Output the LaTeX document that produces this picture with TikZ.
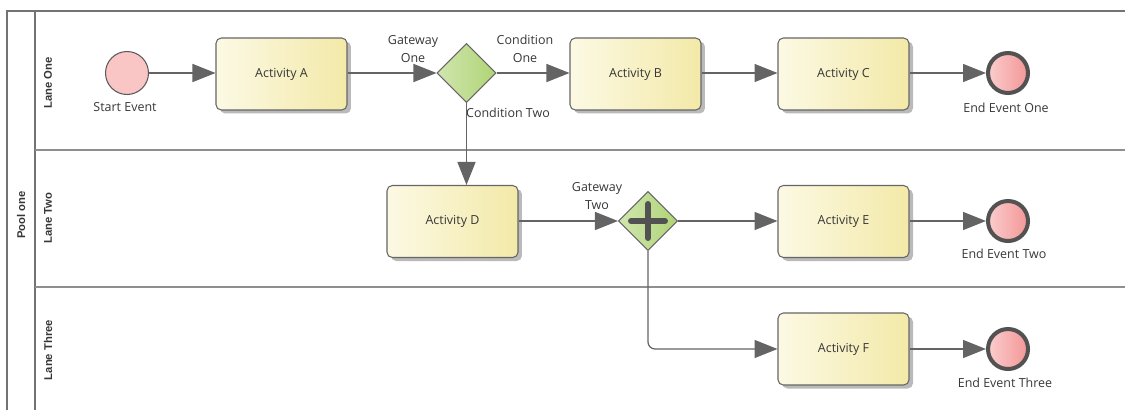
\documentclass[tikz,border=0pt]{standalone}
\usepackage{fontspec}
\setmainfont{Open Sans}
\newfontfamily\lanefont{Liberation Sans}
\usepackage{tikz}
\usetikzlibrary{arrows.meta, shapes.geometric, shadows, positioning}

\definecolor{actleft}{RGB}{252,249,228}
\definecolor{actright}{RGB}{243,233,168}
\definecolor{gwleft}{RGB}{208,230,174}
\definecolor{gwright}{RGB}{176,212,118}
\definecolor{startfill}{RGB}{249,197,197}
\definecolor{endleft}{RGB}{251,205,205}
\definecolor{endright}{RGB}{243,150,150}
\definecolor{poolline}{RGB}{115,115,115}
\definecolor{flowline}{RGB}{110,110,110}
\definecolor{tipgray}{RGB}{100,100,100}
\definecolor{txt}{RGB}{55,55,55}

\begin{document}
\begin{tikzpicture}[x=0.02cm, y=-0.02cm,
    every node/.style={font=\fontsize{7.1}{10.2}\selectfont, text=txt},
    activity/.style={draw=black!60, line width=0.6pt, rounded corners=3pt,
        minimum width=2.62cm, minimum height=1.44cm, inner sep=0pt,
        left color=actleft, right color=actright,
        general shadow={fill=black!27, shadow xshift=0.08cm, shadow yshift=-0.07cm}},
    gateway/.style={diamond, draw=black!60, line width=0.6pt, minimum size=1.18cm,
        inner sep=0pt, left color=gwleft, right color=gwright},
    startev/.style={circle, draw=black!65, line width=0.6pt, fill=startfill,
        minimum size=0.86cm, inner sep=0pt},
    endev/.style={circle, draw=black!68, line width=2.3pt, left color=endleft,
        right color=endright, minimum size=0.8cm, inner sep=0pt},
    flow/.style={draw=flowline, line width=0.7pt,
        -{Triangle[length=0.46cm, width=0.36cm, fill=tipgray]}, tipgray},
    lanelbl/.style={rotate=90, font=\lanefont\bfseries\fontsize{6.4}{8}\selectfont},
    lbl/.style={align=center, inner sep=0pt}]

  \useasboundingbox (0,0) rectangle (1125,410);

  % pool and lanes
  \draw[poolline, line width=1.1pt] (7,410) -- (7,11) -- (1125,11);
  \draw[poolline, line width=1.1pt] (35,11) -- (35,410);
  \foreach \y in {150,287}
      \draw[poolline!80, line width=1.1pt] (35,\y) -- (1125,\y);

  \node[lanelbl] (poolone) at (21,215) {Pool one};
  \node[lanelbl] (laneone) at (48,83) {Lane One};
  \node[lanelbl] (lanetwo) at (48,218) {Lane Two};
  \node[lanelbl] (lanethree) at (48,350) {Lane Three};

  % lane one
  \node[startev] (start) at (127,73) {};
  \node[activity] (actA) at (281.5,74) {Activity A};
  \node[gateway] (gone) at (466.5,73) {};
  \node[activity] (actB) at (635.5,74) {Activity B};
  \node[activity] (actC) at (843.5,74) {Activity C};
  \node[endev] (endone) at (1008,73) {};

  % lane two
  \node[activity] (actD) at (452.5,221.5) {Activity D};
  \node[gateway] (gtwo) at (648,221) {};
  \node[activity] (actE) at (843.5,221.5) {Activity E};
  \node[endev] (endtwo) at (1008,221) {};

  % lane three
  \node[activity] (actF) at (843.5,349) {Activity F};
  \node[endev] (endthree) at (1008,349) {};

  \draw[black!68, line width=3.4pt, line cap=round]
      ([xshift=-0.34cm]gtwo.center) -- ([xshift=0.34cm]gtwo.center)
      ([yshift=-0.34cm]gtwo.center) -- ([yshift=0.34cm]gtwo.center);

  % labels
  \node[lbl] (startlbl) at (125,107) {Start Event};
  \node[lbl] (gonelbl) at (413,49) {Gateway\\One};
  \node[lbl] (condone) at (525,49) {Condition\\One};
  \node[lbl] (condtwo) at (508,113) {Condition Two};
  \node[lbl] (endonelbl) at (1006,108) {End Event One};
  \node[lbl] (gtwolbl) at (597,196) {Gateway\\Two};
  \node[lbl] (endtwolbl) at (1004,254) {End Event Two};
  \node[lbl] (endthreelbl) at (1005,383) {End Event Three};

  % sequence flows
  \draw[flow] (start) -- (start -| actA.west);
  \draw[flow] (actA.east |- gone) -- (gone.west);
  \draw[flow] (gone.east) -- (gone -| actB.west);
  \draw[flow] (actB.east |- gone) -- (gone -| actC.west);
  \draw[flow] (actC.east |- endone) -- (endone.west);
  \draw[flow] (gone.south) -- (gone.south |- actD.north);
  \draw[flow] (actD.east |- gtwo) -- (gtwo.west);
  \draw[flow] (gtwo.east) -- (gtwo -| actE.west);
  \draw[flow] (actE.east |- endtwo) -- (endtwo.west);
  \draw[flow, rounded corners=4pt] (gtwo.south) |- (actF.west);
  \draw[flow] (actF.east |- endthree) -- (endthree.west);
\end{tikzpicture}
\end{document}
